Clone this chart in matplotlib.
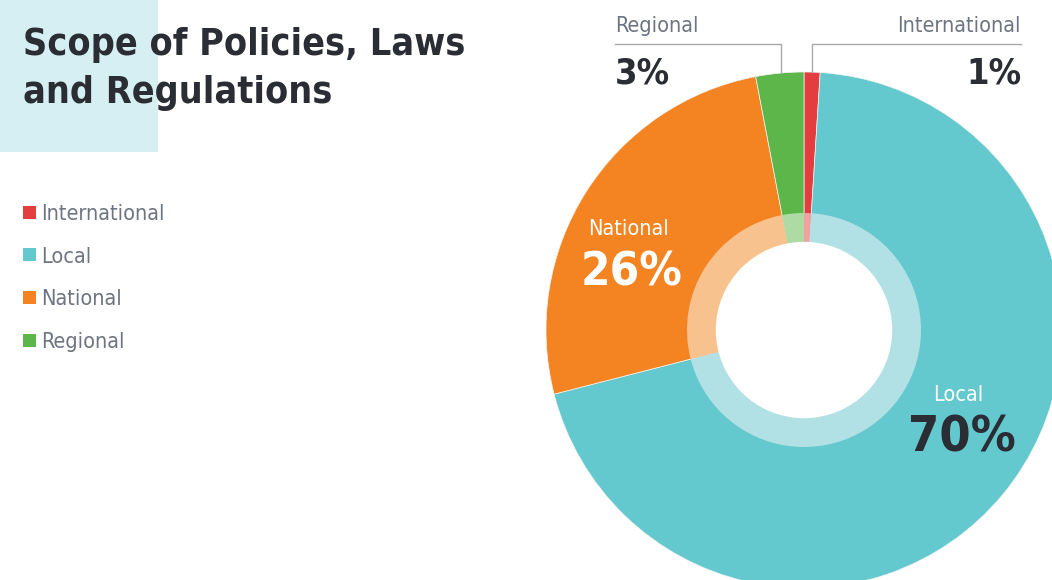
import matplotlib
matplotlib.use("Agg")
import matplotlib.pyplot as plt
from matplotlib.patches import Rectangle

# scope of policies / laws / regulations, share in percent
categories = ["International", "Local", "National", "Regional"]
shares = [1, 70, 26, 3]
colors = ["#e43d40", "#64c8cf", "#f48421", "#5db649"]
light_colors = ["#f2a1a3", "#b1e1e5", "#f8c28f", "#aedba3"]

W, H = 1052, 580
DARK = "#2a2d33"
GRAY = "#6d7581"
LINE = "#a7a9ac"

fig = plt.figure(figsize=(W / 100, H / 100), dpi=100)
ax = fig.add_axes([0, 0, 1, 1])

def Y(y):
    # pixel rows from the top
    return H - y

cx, cy = 804, Y(330)

ax.pie(shares, colors=colors, startangle=90, counterclock=False,
       radius=258, center=(cx, cy),
       wedgeprops=dict(linewidth=0.5, edgecolor="#f4f4f4"))
ax.pie(shares, colors=light_colors, startangle=90, counterclock=False,
       radius=117, center=(cx, cy),
       wedgeprops=dict(width=30, linewidth=0))
ax.add_patch(plt.Circle((cx, cy), 87.5, color="white", zorder=5))

ax.set_xlim(0, W)
ax.set_ylim(0, H)
ax.set_aspect("equal")
ax.axis("off")

cond = dict(family="DejaVu Sans", fontstretch="condensed")

# title block
ax.add_patch(Rectangle((0, Y(152)), 158, 152, color="#d6eff2", lw=0, zorder=0))
ax.text(23, Y(55), "Scope of Policies, Laws", fontsize=27, fontweight="bold",
        color=DARK, va="baseline", **cond)
ax.text(23, Y(103), "and Regulations", fontsize=27, fontweight="bold",
        color=DARK, va="baseline", **cond)

# legend
for i, (name, col) in enumerate(zip(categories, colors)):
    yc = 212 + i * 42.7
    ax.add_patch(Rectangle((23, Y(yc + 6.5)), 13, 13, color=col, lw=0))
    ax.text(41, Y(yc), name, fontsize=15.5, color=GRAY, va="center_baseline", **cond)

# callouts above the ring
pct = {c: f"{v}%" for c, v in zip(categories, shares)}
ax.plot([615, 781, 781], [Y(43.5), Y(43.5), Y(72)], color=LINE, lw=1)
ax.plot([1021, 812, 812], [Y(43.5), Y(43.5), Y(72)], color=LINE, lw=1)
ax.text(615, Y(32), "Regional", fontsize=15.5, color=GRAY, va="baseline", **cond)
ax.text(615, Y(83), pct["Regional"], fontsize=26, fontweight="bold", color=DARK,
        va="baseline", **cond)
ax.text(1021, Y(32), "International", fontsize=15.5, color=GRAY, va="baseline",
        ha="right", **cond)
ax.text(1021, Y(83), pct["International"], fontsize=26, fontweight="bold",
        color=DARK, va="baseline", ha="right", **cond)

# labels inside the big slices
ax.text(629, Y(235), "National", fontsize=15.5, color="white", va="baseline",
        ha="center", **cond)
ax.text(632, Y(285), pct["National"], fontsize=34, fontweight="bold",
        color="white", va="baseline", ha="center", **cond)
ax.text(958, Y(401), "Local", fontsize=15.5, color="white", va="baseline",
        ha="center", **cond)
ax.text(962, Y(452), pct["Local"], fontsize=36, fontweight="bold",
        color=DARK, va="baseline", ha="center", **cond)

fig.savefig("out.png", dpi=100)
